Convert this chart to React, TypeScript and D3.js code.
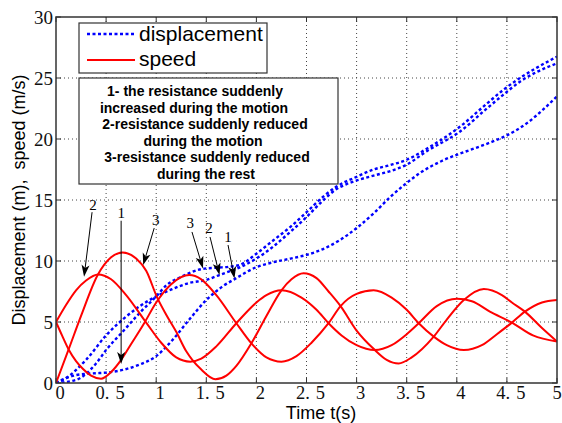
import React from 'react';
import * as d3 from 'd3';

const X_TICKS = [0, 0.5, 1, 1.5, 2, 2.5, 3, 3.5, 4, 4.5, 5];
const Y_TICKS = [0, 5, 10, 15, 20, 25, 30];

// speed, case 1 (resistance increased during motion)
const speed1: [number, number][] = [
  [0, 5.0], [0.06, 3.9], [0.126, 2.75], [0.2, 1.8], [0.27, 1.15], [0.35, 0.6], [0.45, 0.35],
  [0.55, 0.9], [0.65, 1.9], [0.75, 3.2], [0.88, 4.9], [1.0, 6.6], [1.15, 8.1], [1.33, 8.85],
  [1.45, 8.5], [1.6, 7.2], [1.8, 4.9], [1.95, 3.25], [2.1, 2.1], [2.25, 1.75], [2.4, 2.2],
  [2.55, 3.3], [2.72, 4.9], [2.84, 6.3], [3.0, 7.3], [3.17, 7.6], [3.35, 7.0], [3.5, 6.0],
  [3.62, 4.9], [3.77, 3.8], [3.9, 3.1], [4.07, 2.7], [4.25, 3.1], [4.4, 4.0], [4.55, 4.95],
  [4.68, 5.85], [4.85, 6.6], [5.0, 6.8],
];
// speed, case 2 (resistance reduced during motion)
const speed2: [number, number][] = [
  [0, 5.0], [0.1, 6.4], [0.2, 7.6], [0.3, 8.4], [0.42, 8.9], [0.55, 8.5], [0.7, 7.2],
  [0.9, 4.95], [1.05, 3.3], [1.2, 2.1], [1.34, 1.75], [1.45, 2.0], [1.6, 3.0], [1.8, 4.9],
  [2.0, 6.6], [2.1, 7.2], [2.25, 7.6], [2.45, 7.0], [2.6, 6.0], [2.72, 4.9], [2.85, 3.9],
  [3.0, 3.1], [3.18, 2.7], [3.35, 3.1], [3.5, 4.0], [3.62, 4.9], [3.8, 6.3], [4.0, 6.9],
  [4.15, 6.7], [4.33, 5.85], [4.55, 4.95], [4.76, 3.9], [5.0, 3.4],
];
// speed, case 3 (resistance reduced during rest)
const speed3: [number, number][] = [
  [0, 0], [0.126, 2.75], [0.25, 5.5], [0.416, 8.85], [0.55, 10.3], [0.665, 10.7], [0.8, 10.2],
  [0.9, 9.2], [1.01, 7.0], [1.1, 5.6], [1.2, 4.2], [1.3, 2.6], [1.36, 1.9], [1.45, 1.1],
  [1.59, 0.3], [1.7, 0.6], [1.8, 1.4], [1.95, 3.25], [2.1, 5.5], [2.25, 7.6], [2.35, 8.5],
  [2.47, 9.0], [2.6, 8.6], [2.72, 7.5], [2.84, 6.3], [3.0, 4.3], [3.17, 2.8], [3.3, 1.9],
  [3.42, 1.6], [3.55, 2.1], [3.77, 3.8], [3.9, 5.2], [4.07, 6.8], [4.27, 7.7], [4.45, 7.2],
  [4.55, 6.6], [4.68, 5.85], [4.85, 4.5], [5.0, 3.4],
];

// displacement, case 1
const disp1: [number, number][] = [
  [0, 0], [0.1, 0.4], [0.2, 0.65], [0.3, 0.75], [0.4, 0.8], [0.5, 0.85], [0.665, 1.07],
  [0.83, 1.5], [1.0, 2.2], [1.16, 3.5], [1.33, 5.2], [1.5, 6.8], [1.66, 7.9], [1.8, 8.6],
  [2.0, 9.5], [2.17, 9.9], [2.34, 10.2], [2.5, 10.5], [2.67, 11.0], [2.83, 11.7], [3.0, 12.7],
  [3.17, 13.9], [3.33, 15.2], [3.5, 16.4], [3.63, 17.2], [3.85, 18.2], [4.03, 18.8],
  [4.2, 19.3], [4.36, 19.8], [4.5, 20.3], [4.7, 21.3], [4.86, 22.4], [5.0, 23.5],
];
// displacement, case 2
const disp2: [number, number][] = [
  [0, 0], [0.1, 0.4], [0.3, 1.9], [0.5, 3.9], [0.665, 5.2], [0.83, 6.26], [1.0, 7.1],
  [1.16, 7.7], [1.33, 8.2], [1.5, 8.45], [1.63, 8.85], [1.84, 9.5], [2.0, 10.2], [2.17, 11.2],
  [2.34, 12.4], [2.5, 13.6], [2.67, 15.0], [2.8, 15.9], [2.9, 16.3], [3.0, 16.6], [3.17, 17.0],
  [3.33, 17.35], [3.5, 17.9], [3.7, 19.0], [4.03, 20.6], [4.3, 22.5], [4.46, 23.6],
  [4.63, 24.7], [4.8, 25.5], [5.0, 26.2],
];
// displacement, case 3
const disp3: [number, number][] = [
  [0, 0], [0.2, 0.25], [0.4, 1.6], [0.5, 2.7], [0.665, 4.2], [0.83, 5.7], [1.0, 7.1],
  [1.1, 8.0], [1.25, 8.7], [1.46, 9.35], [1.6, 9.45], [1.75, 9.55], [1.84, 9.7], [2.0, 10.6],
  [2.17, 11.7], [2.34, 12.8], [2.5, 14.0], [2.67, 15.3], [2.8, 16.1], [3.0, 16.9],
  [3.17, 17.5], [3.33, 17.85], [3.5, 18.3], [3.7, 19.2], [4.03, 21.0], [4.3, 22.9],
  [4.46, 24.0], [4.63, 25.0], [4.8, 25.85], [5.0, 26.75],
];

const LEGEND_LABELS = ['displacement', 'speed'];
const NOTE_LINES = [
  '1- the resistance suddenly',
  'increased during the motion',
  '2-resistance suddenly reduced',
  'during the motion',
  '3-resistance suddenly reduced',
  'during the rest',
];

// annotation arrows: label, label anchor (t,v), arrow start (t,v), arrow tip (t,v)
const ARROW_LABELS = ['2', '1', '3', '3', '2', '1'];
const ARROW_LABEL_POS: [number, number][] = [
  [0.37, 14.2], [0.65, 13.5], [0.995, 12.95], [1.34, 12.7], [1.527, 12.3], [1.717, 11.56],
];
const ARROW_FROM: [number, number][] = [
  [0.36, 14.0], [0.65, 13.3], [0.98, 12.7], [1.357, 12.38], [1.537, 11.97], [1.717, 11.31],
];
const ARROW_TO: [number, number][] = [
  [0.28, 8.7], [0.65, 1.56], [0.87, 9.67], [1.467, 9.39], [1.632, 8.85], [1.781, 8.57],
];

const W = 562;
const H = 423;
const L = 56, R = 557, T = 17, B = 383;

export default function App() {
  const x = d3.scaleLinear().domain([0, 5]).range([L, R]);
  const y = d3.scaleLinear().domain([0, 30]).range([B, T]);
  const line = d3
    .line<[number, number]>()
    .x((d) => x(d[0]))
    .y((d) => y(d[1]))
    .curve(d3.curveMonotoneX);

  const serif = "'Liberation Serif', 'Times New Roman', serif";
  const sans = "'Liberation Sans', Arial, sans-serif";
  const red = '#ff0000';
  const blue = '#0000ff';

  const arrowHead = (from: [number, number], to: [number, number]) => {
    const x1 = x(from[0]), y1 = y(from[1]), x2 = x(to[0]), y2 = y(to[1]);
    const dx = x2 - x1, dy = y2 - y1;
    const len = Math.hypot(dx, dy);
    const ux = dx / len, uy = dy / len;
    const hl = 12, hw = 4;
    const bx = x2 - ux * hl, by = y2 - uy * hl;
    const pts = [
      [x2, y2],
      [bx - uy * hw, by + ux * hw],
      [bx + ux * 3, by + uy * 3],
      [bx + uy * hw, by - ux * hw],
    ];
    return { x1, y1, bx: bx + ux * 3, by: by + uy * 3, pts: pts.map((p) => p.join(',')).join(' ') };
  };

  return (
    <svg width={W} height={H} style={{ position: 'absolute', left: 0, top: 0, background: '#fff' }}>
      <rect x={0} y={0} width={W} height={H} fill="#fff" />
      <defs>
        <clipPath id="plotclip">
          <rect x={L} y={T} width={R - L} height={B - T} />
        </clipPath>
      </defs>
      {/* grid */}
      {X_TICKS.slice(1, -1).map((t) => (
        <line key={'gx' + t} x1={x(t)} x2={x(t)} y1={T} y2={B} stroke="#444" strokeWidth={1} strokeDasharray="1 3" />
      ))}
      {Y_TICKS.slice(1, -1).map((v) => (
        <line key={'gy' + v} x1={L} x2={R} y1={y(v)} y2={y(v)} stroke="#444" strokeWidth={1} strokeDasharray="1 3" />
      ))}
      {/* ticks */}
      {X_TICKS.map((t) => (
        <g key={'tx' + t}>
          <line x1={x(t)} x2={x(t)} y1={B} y2={B - 5} stroke="#333" strokeWidth={1} />
          <line x1={x(t)} x2={x(t)} y1={T} y2={T + 5} stroke="#333" strokeWidth={1} />
        </g>
      ))}
      {Y_TICKS.map((v) => (
        <g key={'ty' + v}>
          <line x1={L} x2={L + 5} y1={y(v)} y2={y(v)} stroke="#333" strokeWidth={1} />
          <line x1={R} x2={R - 5} y1={y(v)} y2={y(v)} stroke="#333" strokeWidth={1} />
        </g>
      ))}
      {/* curves */}
      <g clipPath="url(#plotclip)">
        {[disp1, disp2, disp3].map((d, i) => (
          <path key={'d' + i} d={line(d) || ''} fill="none" stroke={blue} strokeWidth={2.4} strokeDasharray="3 2.5" />
        ))}
        {[speed1, speed2, speed3].map((d, i) => (
          <path key={'s' + i} d={line(d) || ''} fill="none" stroke={red} strokeWidth={2} />
        ))}
      </g>
      {/* box */}
      <rect x={L} y={T} width={R - L} height={B - T} fill="none" stroke="#333" strokeWidth={1.5} />
      {/* tick labels */}
      {X_TICKS.map((t, i) => {
        const s = String(t);
        const parts = s.split('.');
        const cx = i === X_TICKS.length - 1 ? x(t) : x(t) + 4;
        return (
          <text key={'lx' + t} x={cx} y={399} fontFamily={serif} fontSize={18.5} textAnchor="middle" fill="#111">
            {parts.length === 1 ? s : (
              <>
                <tspan>{parts[0] + '.'}</tspan>
                <tspan dx={6}>{parts[1]}</tspan>
              </>
            )}
          </text>
        );
      })}
      {Y_TICKS.map((v) => (
        <text key={'ly' + v} x={53} y={y(v) + 6.5} fontFamily={serif} fontSize={19} textAnchor="end" fill="#111">
          {v}
        </text>
      ))}
      {/* axis titles */}
      <text x={321} y={419} fontFamily={sans} fontSize={18} textAnchor="middle" fill="#000">
        Time t(s)
      </text>
      <text
        transform="translate(25,200) rotate(-90)"
        fontFamily={sans}
        fontSize={18}
        textAnchor="middle"
        fill="#000"
        style={{ whiteSpace: 'pre' }}
      >
        {'Displacement (m),  speed (m/s)'}
      </text>
      {/* legend */}
      <rect x={79} y={23} width={188} height={50} fill="#fff" stroke="#333" strokeWidth={1.2} />
      <line x1={87} x2={135} y1={34} y2={34} stroke={blue} strokeWidth={2.4} strokeDasharray="3 2.5" />
      <line x1={87} x2={135} y1={60} y2={60} stroke={red} strokeWidth={2} />
      <text x={139} y={41} fontFamily={sans} fontSize={21} fill="#000">{LEGEND_LABELS[0]}</text>
      <text x={139} y={66} fontFamily={sans} fontSize={21} fill="#000">{LEGEND_LABELS[1]}</text>
      {/* note box */}
      <rect x={79} y={78} width={259} height={106} fill="#fff" stroke="#333" strokeWidth={1.2} />
      {NOTE_LINES.map((s, i) => (
        <text
          key={'n' + i}
          x={[195, 194, 205, 203, 207, 206][i]}
          y={96 + i * 16.5}
          fontFamily={sans}
          fontSize={14}
          fontWeight="bold"
          textAnchor="middle"
          fill="#000"
        >
          {s}
        </text>
      ))}
      {/* arrows */}
      {ARROW_LABELS.map((lab, i) => {
        const a = arrowHead(ARROW_FROM[i], ARROW_TO[i]);
        return (
          <g key={'a' + i}>
            <line x1={a.x1} y1={a.y1} x2={a.bx} y2={a.by} stroke="#000" strokeWidth={1} />
            <polygon points={a.pts} fill="#000" />
            <text
              x={x(ARROW_LABEL_POS[i][0])}
              y={y(ARROW_LABEL_POS[i][1])}
              fontFamily={serif}
              fontSize={15}
              textAnchor="middle"
              fill="#000"
            >
              {lab}
            </text>
          </g>
        );
      })}
    </svg>
  );
}
